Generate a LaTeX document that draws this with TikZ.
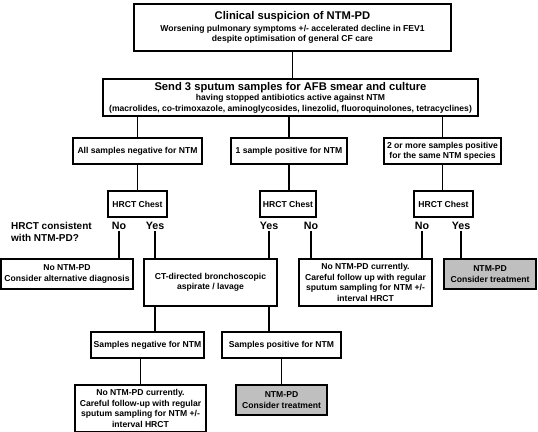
\documentclass[tikz,border=0pt]{standalone}
\usepackage{fontspec}
\setmainfont{Liberation Sans}
\usetikzlibrary{positioning}
\newcommand\headtxt{\fontsize{11.2}{13.5}\selectfont}
\tikzset{
  box/.style     = {draw, line width=1.2pt, rectangle, align=center, inner sep=1pt,
                    font=\bfseries\fontsize{8.6}{10.4}\selectfont},
  greybox/.style = {box, fill=black!25},
  answer/.style  = {font=\bfseries\fontsize{10.7}{12.5}\selectfont, inner sep=1pt},
  link/.style    = {line width=1.2pt}
}
\begin{document}
\begin{tikzpicture}[x=1pt, y=-1pt]
  \useasboundingbox (0,0) rectangle (538,431);
  % top of the chart
  \node[box, minimum width=317pt, minimum height=47pt] (clin) at (292.5,27.5)
    {{\headtxt Clinical suspicion of NTM-PD}\\[1pt]
     Worsening pulmonary symptoms +/- accelerated decline in FEV1\\
     despite optimisation of general CF care};
  \node[box, minimum width=375pt, minimum height=37pt] (send) at (290.5,97.5)
    {{\headtxt Send 3 sputum samples for AFB smear and culture}\\
     having stopped antibiotics active against NTM\\
     (macrolides, co-trimoxazole, aminoglycosides, linezolid, fluoroquinolones, tetracyclines)};
  % sputum results
  \node[box, minimum width=129pt, minimum height=26pt] (neg) at (137.5,151) {All samples negative for NTM};
  \node[box, minimum width=116pt, minimum height=26pt] (one) at (289,151) {1 sample positive for NTM};
  \node[box, minimum width=117pt, minimum height=26pt] (two) at (442.5,151)
    {2 or more samples positive\\for the same NTM species};
  % HRCT
  \node[box, minimum width=59pt, minimum height=26pt] (hrctA) at (137.5,204) {HRCT Chest};
  \node[box, minimum width=56pt, minimum height=26pt] (hrctB) at (288,204) {HRCT Chest};
  \node[box, minimum width=59pt, minimum height=26pt] (hrctC) at (443.5,204) {HRCT Chest};
  \node[answer, anchor=west, align=left, font=\bfseries\fontsize{10}{12.5}\selectfont] (query) at (10,232)
    {HRCT consistent\\with NTM-PD?};
  \node[answer] (noA)  at (119,226) {No};
  \node[answer] (yesA) at (155,226) {Yes};
  \node[answer] (yesB) at (269,226) {Yes};
  \node[answer] (noB)  at (311,226) {No};
  \node[answer] (noC)  at (422,226) {No};
  \node[answer] (yesC) at (461,226) {Yes};
  % outcomes
  \node[box, minimum width=132pt, minimum height=30pt] (altdx) at (67,274)
    {No NTM-PD\\Consider alternative diagnosis};
  \node[box, minimum width=133pt, minimum height=47pt] (bronch) at (210.5,282.5)
    {CT-directed bronchoscopic\\aspirate / lavage};
  \node[box, minimum width=133pt, minimum height=47pt] (watchA) at (365.5,282.5)
    {No NTM-PD currently.\\Careful follow up with regular\\sputum sampling for NTM +/-\\interval HRCT};
  \node[greybox, minimum width=92pt, minimum height=30pt] (treatA) at (490,274)
    {NTM-PD\\Consider treatment};
  \node[box, minimum width=113pt, minimum height=26pt] (bneg) at (147.5,345) {Samples negative for NTM};
  \node[box, minimum width=119pt, minimum height=26pt] (bpos) at (281.5,345) {Samples positive for NTM};
  \node[box, minimum width=131pt, minimum height=47pt] (watchB) at (140.5,408.5)
    {No NTM-PD currently.\\Careful follow-up with regular\\sputum sampling for NTM +/-\\interval HRCT};
  \node[greybox, minimum width=91pt, minimum height=30pt] (treatB) at (281.5,400)
    {NTM-PD\\Consider treatment};
  % connectors
  \draw[link] (clin.south) -- (clin.south |- send.north);
  \foreach \n in {neg,one,two}
    \draw[link] (\n.north) -- (\n.north |- send.south);
  \foreach \a/\b in {neg/hrctA, one/hrctB, two/hrctC}
    \draw[link] (\a.south) -- (\a.south |- \b.north);
  \foreach \a/\b in {noA/altdx, yesA/bronch, yesB/bronch, noB/watchA, noC/watchA, yesC/treatA}
    \draw[link] (\a.south) -- (\a.south |- \b.north);
  \draw[link] (yesA.south |- bronch.south) -- (yesA.south |- bneg.north);
  \draw[link] (yesB.south |- bronch.south) -- (yesB.south |- bpos.north);
  \draw[link] (watchB.north) -- (watchB.north |- bneg.south);
  \draw[link] (treatB.north) -- (treatB.north |- bpos.south);
\end{tikzpicture}
\end{document}
